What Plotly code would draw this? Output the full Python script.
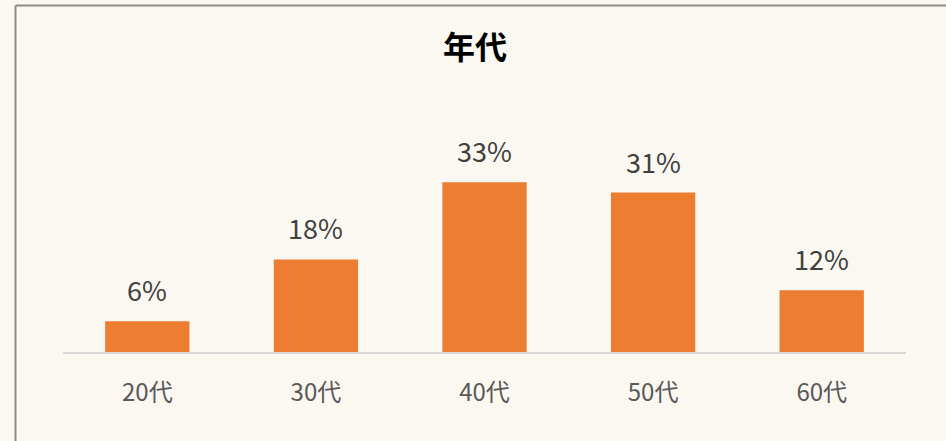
import plotly.graph_objects as go

categories = ["20代", "30代", "40代", "50代", "60代"]
values = [6, 18, 33, 31, 12]
value_labels = ["6%", "18%", "33%", "31%", "12%"]
title_text = "年代"

BG = "#FBF7F1"
BAR = "#ED7D31"
FONT = "Noto Sans CJK JP"

fig = go.Figure()
fig.add_trace(go.Bar(
    x=categories, y=values, marker=dict(color=BAR, line=dict(width=0)),
    width=0.5, hoverinfo="skip", showlegend=False,
))

for c, v, t in zip(categories, values, value_labels):
    fig.add_annotation(x=c, y=v, text=t, showarrow=False, yanchor="bottom",
                       yshift=10, font=dict(family=FONT, size=27, color="#404040"))

L, R, T, B = 63, 40, 100, 89
W, H = 946, 441
pw, ph = W - L - R, H - T - B
bx = (15.5 - L) / pw
by = (H - B - 5.5) / ph

fig.add_shape(type="line", xref="paper", yref="paper", x0=bx, x1=1.2, y0=by, y1=by,
              line=dict(color="#8C8C8C", width=2))
fig.add_shape(type="line", xref="paper", yref="paper", x0=bx, x1=bx, y0=by, y1=-1,
              line=dict(color="#8C8C8C", width=2))

fig.update_layout(
    width=W, height=H,
    margin=dict(l=L, r=R, t=T, b=B),
    paper_bgcolor=BG, plot_bgcolor=BG,
    title=dict(text="<b>" + title_text + "</b>", x=475 / W, xref="container", xanchor="center",
               y=1 - 48 / H, yanchor="middle",
               font=dict(family=FONT, size=32, color="#000000")),
    xaxis=dict(showgrid=False, showline=True, linecolor="#D9D9D9", linewidth=2,
               ticks="", tickfont=dict(family=FONT, size=24, color="#595959"),
               ticklabelstandoff=18),
    yaxis=dict(range=[0, 49], visible=False, showgrid=False, zeroline=False),
    bargap=0.5,
)

fig.write_html("out.html", config={"displayModeBar": False},
               post_script="document.body.style.margin='0';document.body.style.background='#FBF7F1';")
